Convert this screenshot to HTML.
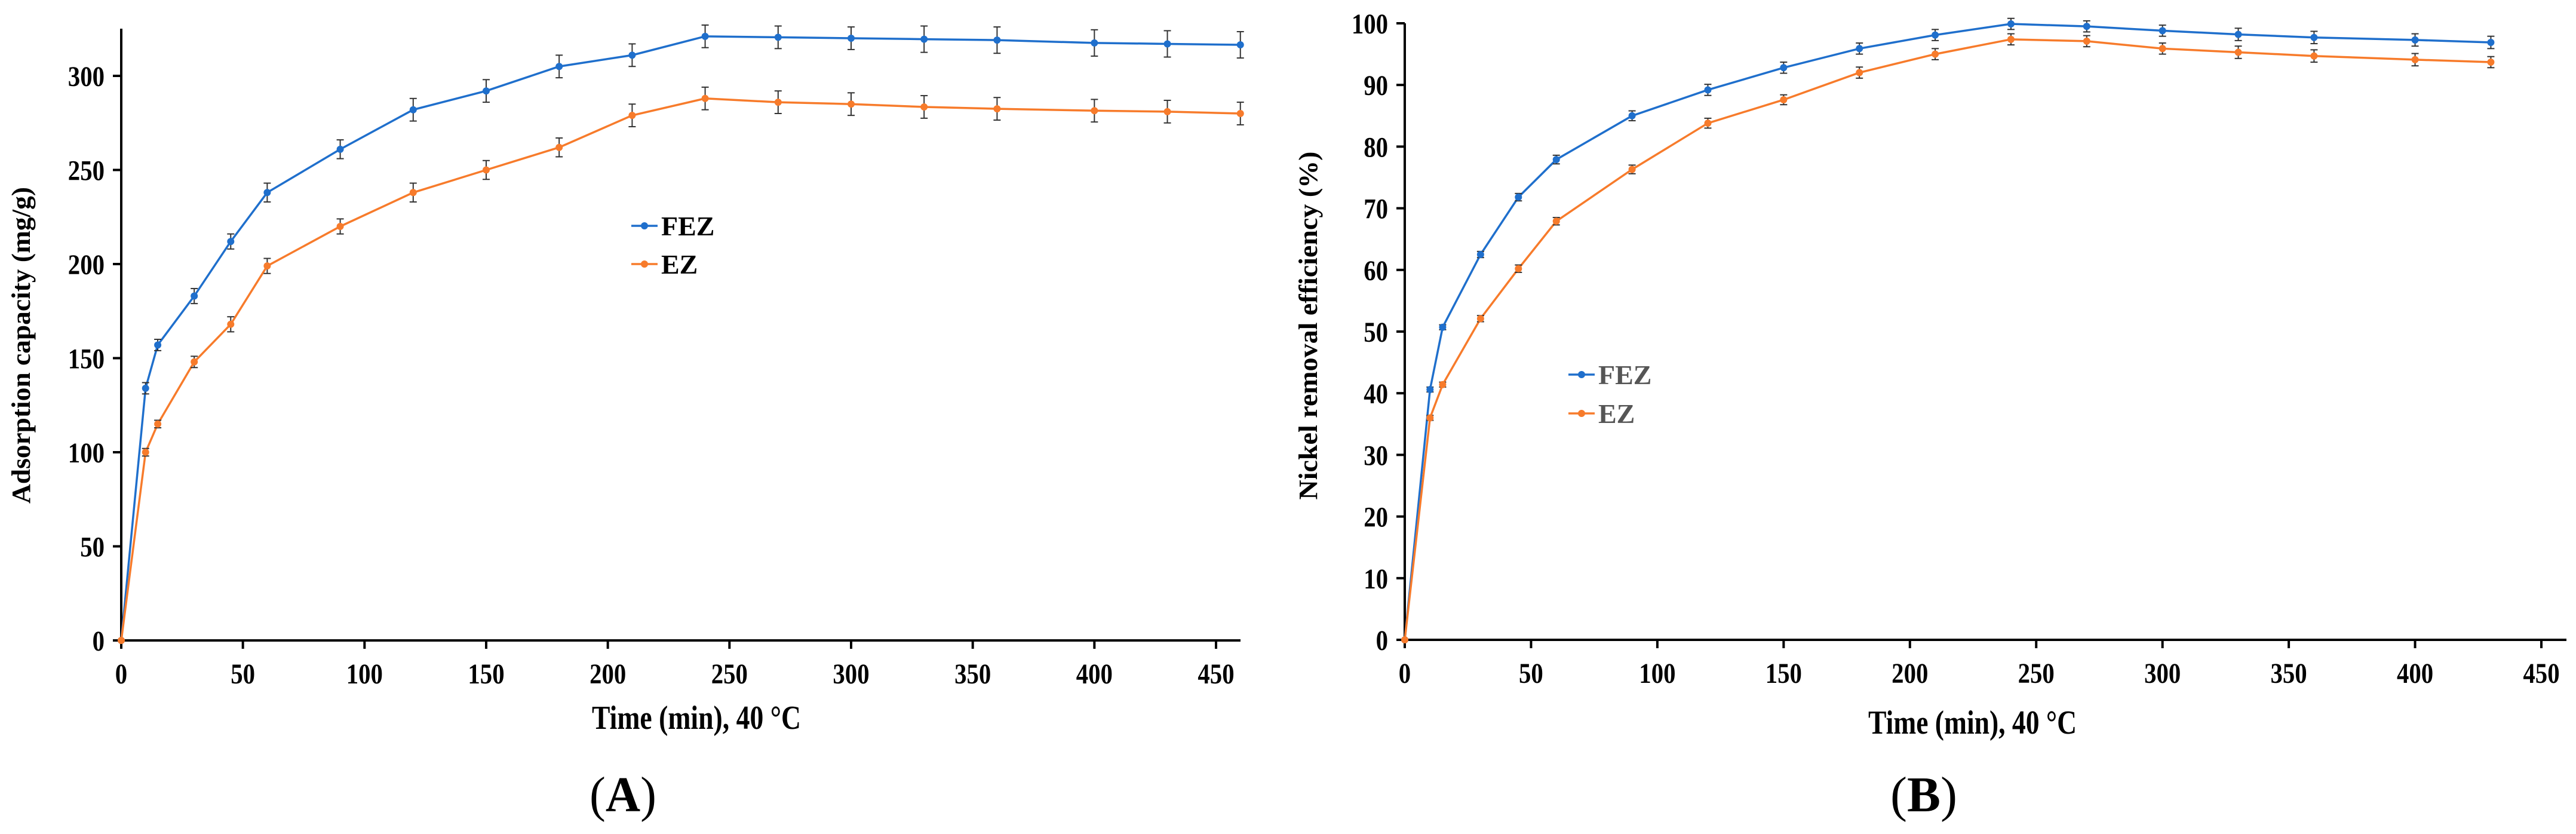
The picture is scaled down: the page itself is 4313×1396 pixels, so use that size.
<!DOCTYPE html>
<html><head><meta charset="utf-8"><style>
html,body{margin:0;padding:0;background:#fff;}
svg{display:block;font-family:"Liberation Serif",serif;font-weight:bold;}
</style></head><body>
<svg id="chart" width="4313" height="1396" viewBox="0 0 4313 1396" xmlns="http://www.w3.org/2000/svg"></svg>
<script>
// Panel A data
const timesA = [0,10,15,30,45,60,90,120,150,180,210,240,270,300,330,360,400,430,460];
const fezA = [0,134,157,183,212,238,261,282,292,305,311,321,320.5,320,319.5,319,317.5,317,316.5];
const ezA = [0,100,115,148,168,199,220,238,250,262,279,288,286,285,283.5,282.5,281.5,281,280];
const fezAErr = [0,3,3,4,4,5,5,6,6,6,6,6,6,6,7,7,7,7,7];
const ezAErr = [0,2,2,3,4,4,4,5,5,5,6,6,6,6,6,6,6,6,6];
const yTicksA = [0,50,100,150,200,250,300];
const xTicks = [0,50,100,150,200,250,300,350,400,450];
// Panel B data
const timesB = [0,10,15,30,45,60,90,120,150,180,210,240,270,300,330,360,400,430];
const fezB = [0,40.6,50.7,62.5,71.8,77.9,85,89.2,92.8,95.9,98.1,99.9,99.5,98.8,98.2,97.7,97.3,96.9];
const ezB = [0,36,41.4,52.1,60.2,67.9,76.3,83.8,87.6,92,95,97.4,97.1,95.9,95.3,94.7,94.1,93.7];
const fezBErr = [0,0.4,0.4,0.5,0.6,0.7,0.8,0.9,0.9,0.9,0.9,0.9,0.9,0.9,1,1,1,1];
const ezBErr = [0,0.4,0.4,0.5,0.6,0.6,0.7,0.8,0.8,0.9,0.9,0.9,0.9,0.9,1,1,1,0.9];
const yTicksB = [0,10,20,30,40,50,60,70,80,90,100];

const svg = document.getElementById('chart');
const NS = 'http://www.w3.org/2000/svg';
const BLUE = '#1f6fcc', ORANGE = '#f77b2b';
function mk(tag, attrs, parent){const e=document.createElementNS(NS,tag);for(const k in attrs)e.setAttribute(k,attrs[k]);(parent||svg).appendChild(e);return e;}

function panel(cfg){
  const g = mk('g',{});
  
  
  const sx = v => cfg.x0 + (v)*(cfg.x450-cfg.x0)/450;
  const sy = v => cfg.y0 - (v-0)*(cfg.y0-cfg.yRefPx)/cfg.yRefVal;
  const xa = mk('line',{x1:cfg.x0-14,y1:cfg.y0,x2:cfg.xEnd,y2:cfg.y0,stroke:'#000','stroke-width':4},g);
  
  
  const ya = mk('line',{x1:cfg.x0,y1:cfg.y0+14,x2:cfg.x0,y2:cfg.yTop,stroke:'#000','stroke-width':4},g);
  
  
  xTicks.forEach(t=>{
    const x=sx(t);
    mk('line',{x1:x,y1:cfg.y0,x2:x,y2:cfg.y0+14,stroke:'#000','stroke-width':4},g);
    const tx=mk('text',{x:x,y:cfg.y0+72,'text-anchor':'middle','font-size':48,transform:`translate(${x},0) scale(0.85,1) translate(${-x},0)`},g);
    tx.textContent=t;
    
    
  });
  cfg.yTicks.forEach(t=>{
    const y=sy(t);
    mk('line',{x1:cfg.x0-14,y1:y,x2:cfg.x0,y2:y,stroke:'#000','stroke-width':4},g);
    const xr=cfg.x0-28;
    const tx=mk('text',{x:xr,y:y+17,'text-anchor':'end','font-size':48,transform:`translate(${xr},0) scale(0.85,1) translate(${-xr},0)`},g);
    tx.textContent=t;
    
    
  });
  cfg.series.forEach(s=>{
    const pts=cfg.times.map((t,i)=>sx(t)+','+sy(s.vals[i])).join(' ');
    const pl=mk('polyline',{points:pts,fill:'none',stroke:s.color,'stroke-width':3.5},g);
    
    
    cfg.times.forEach((t,i)=>{
      const x=sx(t),v=s.vals[i],e=s.err[i];
      if(e>0){
        const y1=sy(v+e),y2=sy(v-e);
        mk('line',{x1:x,y1:y1,x2:x,y2:y2,stroke:'#333','stroke-width':2},g);
        mk('line',{x1:x-6,y1:y1,x2:x+6,y2:y1,stroke:'#333','stroke-width':2},g);
        mk('line',{x1:x-6,y1:y2,x2:x+6,y2:y2,stroke:'#333','stroke-width':2},g);
      }
      const c=mk('circle',{cx:x,cy:sy(v),r:6,fill:s.color},g);
      
      
    });
  });
  cfg.series.forEach((s,i)=>{
    const ly=cfg.legY[i];
    const lg=mk('g',{},g);
    
    
    mk('line',{x1:cfg.legX,y1:ly,x2:cfg.legX+44,y2:ly,stroke:s.color,'stroke-width':3.5},lg);
    mk('circle',{cx:cfg.legX+22,cy:ly,r:6,fill:s.color},lg);
    const t=mk('text',{x:cfg.legX+50,y:ly+16,'font-size':46,fill:cfg.legColor},lg);
    t.textContent=s.label;
  });
  const xt=mk('text',{x:cfg.xtX,y:cfg.xtY,'font-size':56,textLength:cfg.xtW,lengthAdjust:'spacingAndGlyphs'},g);
  xt.textContent='Time (min), 40 \u00B0C';
  
  
  const yt=mk('text',{x:0,y:0,'font-size':44,'text-anchor':'middle',textLength:cfg.ytW,lengthAdjust:'spacingAndGlyphs',transform:`translate(${cfg.ytX},${cfg.ytY}) rotate(-90)`},g);
  yt.textContent=cfg.ytitle;
  
  
  const pl=mk('text',{x:cfg.plX,y:1358,'font-size':84,'text-anchor':'middle',textLength:112,lengthAdjust:'spacingAndGlyphs'},g);
  const p1=mk('tspan',{'font-weight':'normal'},pl); p1.textContent='(';
  const p2=mk('tspan',{},pl); p2.textContent=cfg.panelLetter;
  const p3=mk('tspan',{'font-weight':'normal'},pl); p3.textContent=')';
  
  
}

panel({name:'panel-a',x0:203,x450:2036,xEnd:2077,y0:1072,yRefPx:127,yRefVal:300,yTop:48,
  times:timesA,yTicks:yTicksA,
  series:[{key:'fez',label:'FEZ',color:BLUE,vals:fezA,err:fezAErr},{key:'ez',label:'EZ',color:ORANGE,vals:ezA,err:ezAErr}],
  legX:1057,legY:[378,442],legColor:'#000',
  xtX:991,xtY:1220,xtW:350,ytX:50,ytY:578,ytW:530,ytitle:'Adsorption capacity (mg/g)',
  plX:1043,panelLetter:'A'});
panel({name:'panel-b',x0:2352,x450:4255,xEnd:4297,y0:1071,yRefPx:39,yRefVal:100,yTop:39,
  times:timesB,yTicks:yTicksB,
  series:[{key:'fez',label:'FEZ',color:BLUE,vals:fezB,err:fezBErr},{key:'ez',label:'EZ',color:ORANGE,vals:ezB,err:ezBErr}],
  legX:2626,legY:[627,692],legColor:'#555',
  xtX:3128,xtY:1228,xtW:349,ytX:2205,ytY:545,ytW:583,ytitle:'Nickel removal efficiency (%)',
  plX:3221,panelLetter:'B'});
</script>
</body></html>
